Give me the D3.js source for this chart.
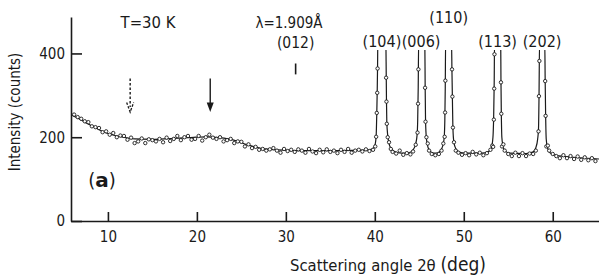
<!DOCTYPE html>
<html>
<head>
<meta charset="utf-8">
<script src="https://cdn.jsdelivr.net/npm/d3@7"></script>
<style>
  body { margin: 0; background: #fff; }
  svg { display: block; font-family: "DejaVu Sans Condensed", "DejaVu Sans", sans-serif; }
</style>
</head>
<body>
<script>
// observed counts, [2theta, counts]
const observed = [
  [6.2,254],[6.6,248],[7.0,244],[7.4,238],[7.8,236],[8.2,226],[8.6,224],[9.0,222],[9.4,212],[9.8,214],
  [10.2,206],[10.6,210],[11.0,200],[11.4,204],[11.8,203],[12.2,194],[12.6,199],[13.0,186],[13.4,190],[13.8,197],
  [14.2,186],[14.6,195],[15.0,193],[15.4,190],[15.8,196],[16.2,188],[16.6,199],[17.0,191],[17.4,196],[17.8,203],
  [18.2,193],[18.6,200],[19.0,203],[19.4,194],[19.8,196],[20.2,203],[20.6,192],[21.0,200],[21.4,206],[21.8,199],
  [22.2,196],[22.6,200],[23.0,190],[23.4,193],[23.8,196],[24.2,186],[24.6,190],[25.0,189],[25.4,178],[25.8,183],
  [26.2,174],[26.6,177],[27.0,170],[27.4,172],[27.8,168],[28.2,171],[28.6,174],[29.0,168],[29.4,163],[29.8,172],
  [30.2,167],[30.6,170],[31.0,165],[31.4,171],[31.8,168],[32.2,163],[32.6,172],[33.0,166],[33.4,162],[33.8,170],
  [34.2,164],[34.6,171],[35.0,165],[35.4,168],[35.8,162],[36.2,170],[36.6,165],[37.0,172],[37.4,163],[37.8,168],
  [38.2,170],[38.6,166],[39.0,171],[39.4,167],[39.8,170],
  [40.05,178],[40.15,201],[40.22,258],[40.27,306],[40.31,364],
  [41.27,342],[41.31,285],[41.35,232],[41.45,200],
  [41.6,188],[41.8,172],[42.0,165],[42.4,161],[42.8,168],[43.2,158],[43.6,162],[44.0,159],[44.3,166],[44.6,182],
  [44.8,211],[44.86,280],[44.9,362],[45.65,318],[45.7,237],[45.8,200],
  [45.95,185],[46.1,168],[46.4,160],[46.8,157],[47.2,160],[47.5,168],[47.7,185],
  [47.85,201],[47.9,259],[47.93,335],[48.68,362],[48.72,297],[48.78,223],
  [48.9,188],[49.1,168],[49.4,163],[49.8,158],[50.2,162],[50.6,157],[51.0,165],[51.4,159],[51.8,163],[52.2,157],
  [52.6,162],[53.0,170],[53.2,180],
  [53.3,177],[53.38,242],[53.42,316],[53.45,398],[54.18,331],[54.22,256],[54.3,178],
  [54.45,183],[54.6,168],[55.0,160],[55.4,155],[55.8,163],[56.2,155],[56.6,162],[57.0,155],[57.4,161],[57.8,160],[58.1,168],
  [58.4,214],[58.45,298],[58.5,382],[59.15,334],[59.2,251],[59.28,178],
  [59.45,180],[59.6,168],[60.0,160],[60.4,155],[60.8,150],[61.2,157],[61.6,150],[62.0,155],[62.4,148],[62.8,154],
  [63.2,146],[63.6,152],[64.0,145],[64.4,150],[64.8,143]
];

// fitted curve
const fitted = [
  [5.85,254],[7,241],[8,229],[9,218],[10,209],[11,203],[12,199],[13,196],[15,195],[17,197],[19,199],[21,201],
  [22.5,199],[23.5,196],[24.5,191],[25.5,183],[26.5,177],[27.5,172],[29,170],[32,168],[36,168],[39,169],[39.7,172],
  [40.0,180],[40.15,203],[40.22,255],[40.27,310],[40.31,370],[40.34,430],[41.24,430],
  [41.27,380],[41.31,290],[41.35,235],[41.45,205],[41.6,185],[41.8,174],[42.2,166],[43,162],[43.8,163],[44.3,170],
  [44.6,185],[44.75,205],[44.82,240],[44.88,320],[44.93,430],[45.62,430],
  [45.66,320],[45.7,245],[45.77,205],[45.9,183],[46.1,170],[46.6,162],[47.1,163],[47.5,172],[47.7,185],
  [47.8,200],[47.87,240],[47.92,320],[47.96,430],[48.62,430],
  [48.67,360],[48.72,295],[48.77,230],[48.85,195],[49.0,178],[49.3,167],[50,162],[52,162],[52.8,166],[53.1,175],
  [53.28,200],[53.36,250],[53.42,330],[53.46,430],[54.15,430],
  [54.18,335],[54.22,258],[54.28,200],[54.4,180],[54.6,168],[55.2,162],[57,161],[57.8,165],[58.1,175],
  [58.3,195],[58.4,220],[58.46,300],[58.52,430],[59.1,430],
  [59.15,335],[59.2,255],[59.27,195],[59.4,175],[59.7,163],[60.3,157],[61.5,154],[63,151],[64.5,149],[65.2,148]
];

const xTicks = [10, 20, 30, 40, 50, 60];
const yTicks = [0, 200, 400];

// reflection labels: [label, 2theta, row]
const reflections = [
  ["(104)", 40.8, 1], ["(006)", 45.2, 1], ["(110)", 48.3, 0], ["(113)", 53.8, 1], ["(202)", 58.8, 1]
];
const marker012 = 31.1;
const arrows = [
  { at: 12.5, dashed: true },
  { at: 21.5, dashed: false }
];

const W = 599, H = 277;
const x = d3.scaleLinear().domain([5.85, 65.2]).range([71, 599]);
const y = d3.scaleLinear().domain([0, 487]).range([221, 17]);

const svg = d3.select("body").append("svg").attr("width", W).attr("height", H);
const ink = "#1a1a1a";

svg.append("defs").append("clipPath").attr("id", "plot")
  .append("rect").attr("x", 71).attr("y", y(408)).attr("width", 528).attr("height", 221 - y(408));

// axes
const ax = svg.append("g").attr("transform", "translate(0,221)")
  .call(d3.axisBottom(x).tickValues(xTicks).tickSizeInner(-9).tickSizeOuter(0).tickPadding(10));
const ay = svg.append("g").attr("transform", "translate(71,0)")
  .call(d3.axisLeft(y).tickValues(yTicks).tickSizeInner(-11).tickSizeOuter(0).tickPadding(6));
[ax, ay].forEach(g => {
  g.select(".domain").attr("stroke", ink).attr("stroke-width", 1.6);
  g.selectAll(".tick line").attr("stroke", ink).attr("stroke-width", 1.6);
  g.selectAll(".tick text").attr("fill", ink).attr("font-size", 15)
    .attr("font-family", "'DejaVu Sans Condensed', 'DejaVu Sans', sans-serif");
});

// fitted line
const plot = svg.append("g").attr("clip-path", "url(#plot)");
plot.append("path").datum(fitted)
  .attr("fill", "none").attr("stroke", ink).attr("stroke-width", 1.2)
  .attr("d", d3.line().x(d => x(d[0])).y(d => y(d[1])).curve(d3.curveMonotoneX));

// data points
plot.selectAll("circle").data(observed).join("circle")
  .attr("cx", d => x(d[0])).attr("cy", d => y(d[1])).attr("r", 1.7)
  .attr("fill", "#fff").attr("stroke", ink).attr("stroke-width", 0.9);

// arrows
arrows.forEach(a => {
  const ax0 = x(a.at);
  svg.append("line").attr("x1", ax0).attr("x2", ax0).attr("y1", y(340)).attr("y2", y(272))
    .attr("stroke", ink).attr("stroke-width", 1.4)
    .attr("stroke-dasharray", a.dashed ? "2.5,2" : null);
  if (a.dashed) {
    svg.append("path")
      .attr("d", `M${ax0 - 3.5},${y(283)}L${ax0},${y(260)}L${ax0 + 3.5},${y(283)}`)
      .attr("fill", "none").attr("stroke", ink).attr("stroke-width", 1.3).attr("stroke-dasharray", "2.5,1.5");
  } else {
    svg.append("path")
      .attr("d", `M${ax0 - 3.5},${y(283)}L${ax0},${y(260)}L${ax0 + 3.5},${y(283)}Z`)
      .attr("fill", ink);
  }
});

// (012) marker
svg.append("line").attr("x1", x(marker012)).attr("x2", x(marker012))
  .attr("y1", y(376)).attr("y2", y(350)).attr("stroke", ink).attr("stroke-width", 1.6);

// texts
const txt = (s, tx, ty, size, anchor) => svg.append("text").attr("x", tx).attr("y", ty)
  .attr("font-size", size).attr("text-anchor", anchor || "middle").attr("fill", ink).text(s);

txt("T=30 K", 148, 28, 16.5);
txt("λ=1.909Å", 289, 28, 15);
txt("(012)", x(marker012), 48, 15.5);
reflections.forEach(r => txt(r[0], x(r[1]), r[2] ? 47 : 23, 16));

const a = svg.append("text").attr("x", 102).attr("y", 187).attr("text-anchor", "middle")
  .attr("font-size", 20).attr("fill", ink);
a.append("tspan").text("(");
a.append("tspan").attr("font-weight", "bold").attr("font-family", "'DejaVu Sans', sans-serif").text("a");
a.append("tspan").text(")");

const xt = svg.append("text").attr("x", 388).attr("y", 271).attr("text-anchor", "middle")
  .attr("font-size", 16.5).attr("fill", ink);
xt.append("tspan").text("Scattering angle 2θ ");
xt.append("tspan").attr("font-size", 19).text("(deg)");

svg.append("text").attr("transform", "translate(20,112) rotate(-90)")
  .attr("text-anchor", "middle").attr("font-size", 15).attr("fill", ink)
  .text("Intensity (counts)");
</script>
</body>
</html>
